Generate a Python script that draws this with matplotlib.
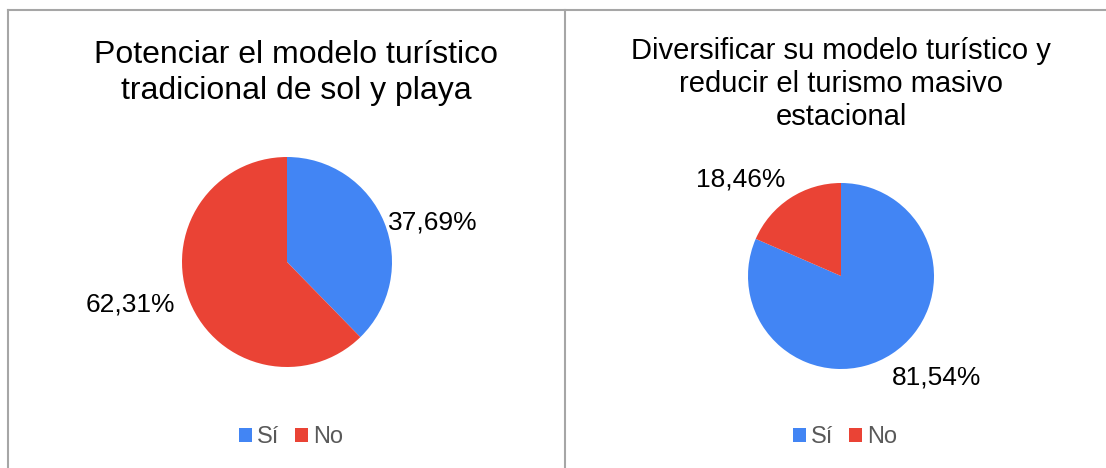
import matplotlib
matplotlib.use("Agg")
import matplotlib.pyplot as plt
from matplotlib.lines import Line2D
import numpy as np

plt.rcParams['font.family'] = ['Liberation Sans', 'DejaVu Sans']

categories = ["Sí", "No"]
titles = ["Potenciar el modelo turístico\ntradicional de sol y playa",
          "Diversificar su modelo turístico y\nreducir el turismo masivo\nestacional"]
values_left = [37.69, 62.31]
values_right = [81.54, 18.46]
colors = ["#4285F4", "#EA4335"]

W, H = 1106, 468
fig = plt.figure(figsize=(W / 100, H / 100), dpi=100)

def px_axes(cx, cy, r):
    return fig.add_axes([(cx - r) / W, 1 - (cy + r) / H, 2 * r / W, 2 * r / H])

def fmt(v):
    return f"{v:.2f}".replace(".", ",") + "%"

def draw_pie(ax, vals, label_r, angle_offsets, fs):
    wedges, _ = ax.pie(vals, colors=colors, startangle=90, counterclock=False,
                       radius=1.0, wedgeprops=dict(linewidth=0))
    ax.set_xlim(-1, 1)
    ax.set_ylim(-1, 1)
    ax.set_aspect('equal')
    ax.axis('off')
    for w, v, off, r in zip(wedges, vals, angle_offsets, label_r):
        ang = np.deg2rad((w.theta1 + w.theta2) / 2 + off)
        ax.text(r * np.cos(ang), r * np.sin(ang), fmt(v),
                ha='center', va='center', fontsize=fs, color='#000000', clip_on=False)
    return wedges

# Left pie
ax1 = px_axes(287, 262, 105)
w1 = draw_pie(ax1, values_left, [1.44, 1.55], [-7, -7], 19)
# Right pie
ax2 = px_axes(841, 276, 93)
w2 = draw_pie(ax2, values_right, [1.5, 1.5], [10, 13], 19)

fig.text(296 / W, 1 - 73 / H, titles[0], ha='center', va='center', fontsize=23,
         linespacing=1.22, color='#000000')
fig.text(841 / W, 1 - 84 / H, titles[1], ha='center', va='center', fontsize=21,
         linespacing=1.24, color='#000000')

for wedges, cx in [(w1, 291), (w2, 845)]:
    fig.legend(wedges, categories, loc='center', bbox_to_anchor=(cx / W, 1 - 437 / H),
               ncol=2, frameon=False, fontsize=17, handlelength=0.55, handleheight=0.55,
               handletextpad=0.22, columnspacing=0.65, labelcolor='#595959')

# Borders
gray = '#A6A6A6'
fig.add_artist(Line2D([8 / W, 1], [1 - 10 / H, 1 - 10 / H], color=gray, lw=1.5))
fig.add_artist(Line2D([8 / W, 8 / W], [0, 1 - 10 / H], color=gray, lw=1.5))
fig.add_artist(Line2D([565 / W, 565 / W], [0, 1 - 10 / H], color=gray, lw=1.5))

fig.savefig("out.png", dpi=100, facecolor='white')
